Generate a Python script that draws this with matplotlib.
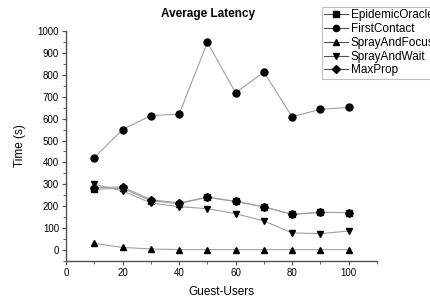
import matplotlib
matplotlib.use("Agg")
import matplotlib.pyplot as plt
from matplotlib.ticker import MultipleLocator

plt.rcParams['font.family'] = ['Liberation Sans', 'DejaVu Sans']

users = [10, 20, 30, 40, 50, 60, 70, 80, 90, 100]
epidemic_oracle = [278, 282, 225, 212, 240, 222, 197, 163, 172, 171]
first_contact = [422, 550, 614, 620, 948, 718, 812, 608, 643, 651]
spray_and_focus = [30, 12, 5, 2, 2, 2, 2, 2, 2, 2]
spray_and_wait = [300, 270, 215, 198, 189, 166, 133, 78, 75, 87]
max_prop = [285, 288, 230, 215, 242, 222, 197, 163, 172, 171]

series = [
    ("EpidemicOracle", epidemic_oracle, "s"),
    ("FirstContact", first_contact, "o"),
    ("SprayAndFocus", spray_and_focus, "^"),
    ("SprayAndWait", spray_and_wait, "v"),
    ("MaxProp", max_prop, "D"),
]

fig = plt.figure(figsize=(4.30, 3.03), dpi=100)
ax = fig.add_axes([66/430, 1-261/303, (377-66)/430, (261-31)/303])

for name, vals, m in series:
    ax.plot(users, vals, color='#a0a0a0', lw=0.8, marker=m, mfc='black', mec='black',
            ms=5 if m != 'D' else 4.5, label=name)

ax.set_xlim(0, 110)
ax.set_ylim(-50, 1000)
ax.xaxis.set_major_locator(MultipleLocator(20))
ax.xaxis.set_minor_locator(MultipleLocator(10))
ax.yaxis.set_major_locator(MultipleLocator(100))
ax.yaxis.set_minor_locator(MultipleLocator(50))
ax.spines['top'].set_visible(False)
ax.spines['right'].set_visible(False)
for s in ('left', 'bottom'):
    ax.spines[s].set_color('#505050')
    ax.spines[s].set_linewidth(1.0)
ax.tick_params(axis='both', which='major', labelsize=7, length=3, width=0.8, color='#505050', pad=2)
ax.tick_params(axis='both', which='minor', length=2, width=0.6, color='#505050')

ax.set_xlabel("Guest-Users", fontsize=8.5, labelpad=6)
ax.set_ylabel("Time (s)", fontsize=8.5, labelpad=8)
fig.text(208/430, 1-17/303, "Average Latency", fontsize=8.5, fontweight='bold',
         ha='center', va='baseline')

leg = fig.legend(loc='upper left', bbox_to_anchor=(322/430, 1-7/303), fontsize=8.5,
                 frameon=True, fancybox=False, borderpad=0.2, labelspacing=0.15,
                 handlelength=2.0, handletextpad=0.25, borderaxespad=0)
leg.get_frame().set_edgecolor('#b0b0b0')
leg.get_frame().set_linewidth(0.8)
for h in leg.legend_handles:
    h.set_color('#505050')
    h.set_markerfacecolor('black')
    h.set_markeredgecolor('black')
    h.set_markersize(4.5)

fig.savefig("out.png", dpi=100)
